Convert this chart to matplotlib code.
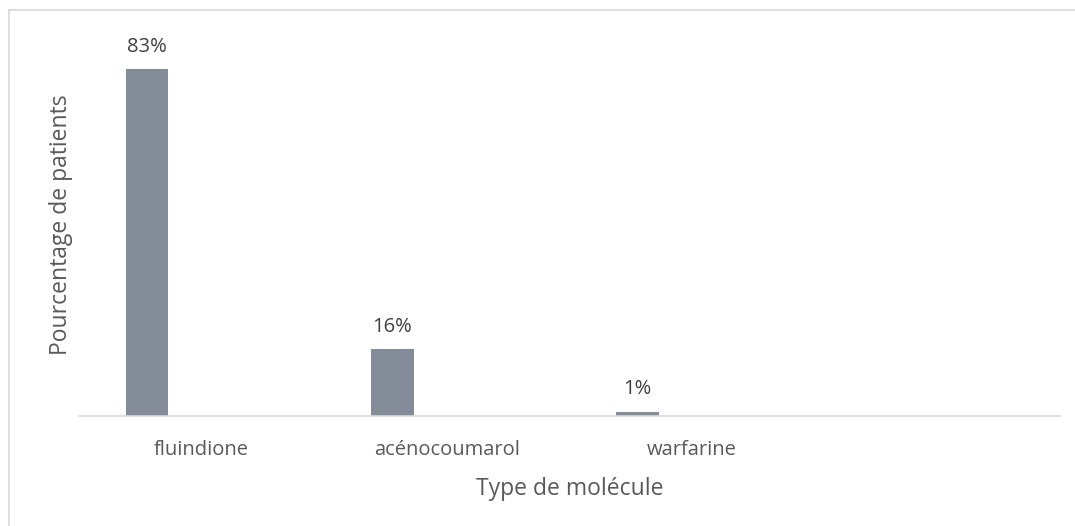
import matplotlib
matplotlib.use("Agg")
import matplotlib.pyplot as plt
from matplotlib.lines import Line2D

# data
molecules = ["fluindione", "acénocoumarol", "warfarine", ""]
percent = [83, 16, 1]
labels = ["83%", "16%", "1%"]

bar_color = "#848c9a"
text_color = "#595959"

plt.rcParams["font.family"] = ["Open Sans", "DejaVu Sans"]

fig = plt.figure(figsize=(10.75, 5.26), dpi=100)
W, H = 1075, 526

# plot area in pixels
left, right, top, bottom = 79, 1060, 40, 416
ax = fig.add_axes([left / W, 1 - bottom / H, (right - left) / W, (bottom - top) / H])

# outer chart border (only top and left edges show in the crop)
bx, by = 8.5 / W, 1 - 9.5 / H
fig.lines.append(Line2D([bx, 1.0], [by, by], transform=fig.transFigure,
                        color="#d9d9d9", linewidth=1.2))
fig.lines.append(Line2D([bx, bx], [0.0, by], transform=fig.transFigure,
                        color="#d9d9d9", linewidth=1.2))

xs = list(range(len(percent)))
bar_x = [x - 0.223 for x in xs]
ax.bar(bar_x, percent, width=0.174, color=bar_color)

for x, v, t in zip(bar_x, percent, labels):
    ax.annotate(t, (x, v), xytext=(0, 9), textcoords="offset points",
                ha="center", va="bottom", fontsize=14.5, color="#404040")

ax.set_xlim(-0.5, 3.5)
ax.set_ylim(0, 90)
ax.set_xticks(range(len(molecules)))
ax.set_xticklabels(molecules, fontsize=14.5, color=text_color)
ax.tick_params(axis="x", length=0, pad=17.5)
ax.set_yticks([])

for s in ["top", "right", "left"]:
    ax.spines[s].set_visible(False)
ax.spines["bottom"].set_color("#d9d9d9")
ax.spines["bottom"].set_linewidth(1.2)

ax.set_xlabel("Type de molécule", fontsize=16.5, color=text_color, labelpad=12)
ax.set_ylabel("Pourcentage de patients", fontsize=16.5, color=text_color, labelpad=0)
ax.yaxis.set_label_coords(-0.0065, 0.51)

fig.savefig("out.png", dpi=100)
